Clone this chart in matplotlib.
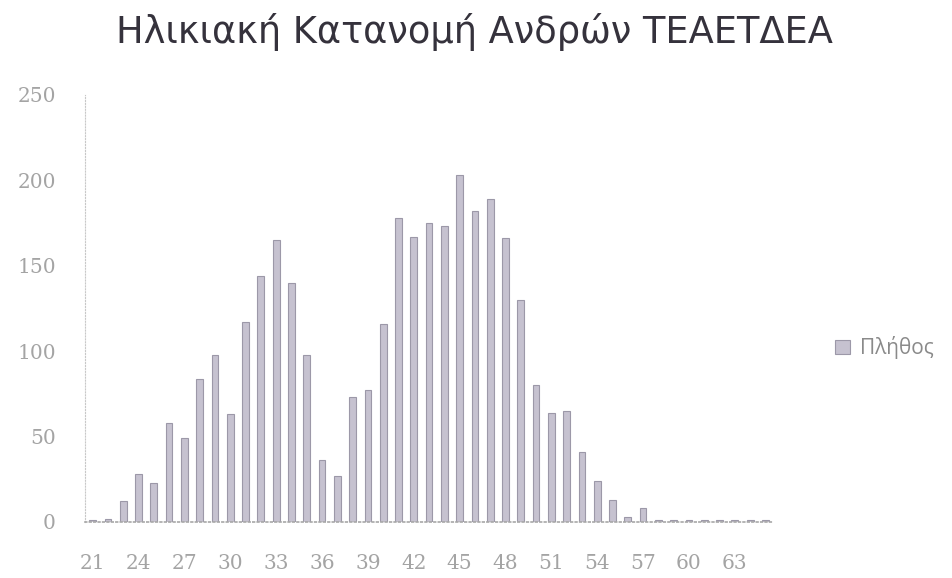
import matplotlib
matplotlib.use("Agg")
import matplotlib.pyplot as plt
import numpy as np

# Age (years) and number of men per age
ages = list(range(21, 66))
counts = [1, 2, 12, 28, 23, 58, 49, 84, 98, 63,
          117, 144, 165, 140, 98, 36, 27, 73, 77, 116,
          178, 167, 175, 173, 203, 182, 189, 166, 130, 80,
          64, 65, 41, 24, 13, 3, 8, 1, 1, 1,
          1, 1, 1, 1, 1]
series_name = "Πλήθος"
title = "Ηλικιακή Κατανομή Ανδρών ΤΕΑΕΤΔΕΑ"

BAR = "#c6c2d0"
EDGE = "#9c98a8"
TICK = "#a4a4a4"

fig = plt.figure(figsize=(9.53, 5.78), dpi=100)
ax = fig.add_axes([0.0892, 0.0969, 0.722, 0.7388])

x = np.arange(len(ages))
ax.bar(x, counts, width=0.44, color=BAR, edgecolor=EDGE, linewidth=0.8,
       label=series_name, zorder=2)

ax.set_xlim(-0.5, len(ages) - 0.5)
ax.set_ylim(0, 250)
ax.set_yticks(range(0, 251, 50))
ax.set_xticks(x[::3])
ax.set_xticklabels([str(a) for a in ages[::3]])

for lab in ax.get_xticklabels() + ax.get_yticklabels():
    lab.set_family("DejaVu Serif")
    lab.set_fontsize(14.5)
    lab.set_color(TICK)
ax.tick_params(axis="both", length=0)
ax.tick_params(axis="y", pad=21)
ax.tick_params(axis="x", pad=23)

for side in ("top", "right"):
    ax.spines[side].set_visible(False)
ax.spines["left"].set_color("#c8c8c8")
ax.spines["left"].set_linestyle(":")
ax.spines["bottom"].set_color("#a8a8a8")
ax.spines["bottom"].set_linestyle(":")
ax.spines["bottom"].set_linewidth(1.2)

leg = fig.legend(loc="center left", bbox_to_anchor=(0.857, 0.398),
                 frameon=False, handlelength=0.7, handleheight=0.7,
                 handletextpad=0.5,
                 prop={"family": "Open Sans", "size": 15})
for t in leg.get_texts():
    t.set_color("#8a8a8a")

fig.text(0.498, 0.944, title, ha="center", va="center",
         fontsize=26.5, family="DejaVu Sans", color="#35323c")

fig.savefig("out.png", dpi=100)
